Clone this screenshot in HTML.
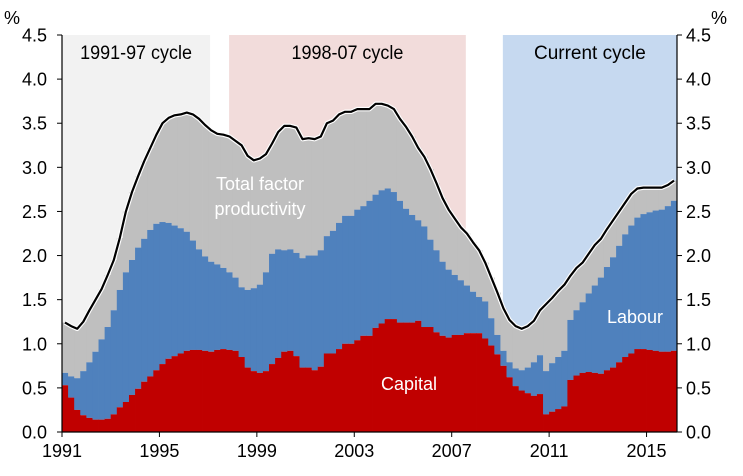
<!DOCTYPE html>
<html><head><meta charset="utf-8">
<style>
html,body{margin:0;padding:0;background:#fff;}
svg{display:block;font-family:"Liberation Sans",Arial,sans-serif;}
</style></head>
<body>
<svg id="chart" width="743" height="476" viewBox="0 0 743 476" xmlns="http://www.w3.org/2000/svg"></svg>
<script>
const capital = [.53,.39,.25,.19,.16,.14,.14,.15,.20,.28,
 .34,.42,.49,.57,.63,.70,.77,.83,.86,.89,
 .92,.93,.93,.92,.91,.93,.94,.93,.92,.85,
 .73,.69,.67,.69,.77,.84,.91,.92,.86,.73,
 .73,.70,.74,.89,.89,.94,1.0,1.0,1.04,1.09,
 1.09,1.18,1.23,1.28,1.28,1.24,1.24,1.24,1.26,1.19,
 1.19,1.13,1.09,1.07,1.10,1.10,1.12,1.12,1.12,1.06,
 .98,.88,.75,.62,.52,.47,.44,.41,.43,.20,
 .23,.26,.29,.59,.64,.67,.68,.67,.66,.70,
 .73,.79,.85,.89,.94,.94,.93,.92,.91,.91,.92];
const capitalPlusLabour = [.67,.63,.61,.69,.79,.91,1.05,1.19,1.38,1.61,
 1.81,1.95,2.09,2.19,2.29,2.36,2.38,2.37,2.34,2.31,
 2.27,2.17,2.07,1.99,1.93,1.90,1.86,1.81,1.75,1.64,
 1.61,1.63,1.67,1.81,2.02,2.07,2.06,2.07,2.03,1.97,
 2.0,2.0,2.06,2.22,2.28,2.37,2.45,2.45,2.52,2.56,
 2.62,2.69,2.74,2.76,2.72,2.62,2.53,2.46,2.40,2.33,
 2.18,2.06,1.93,1.84,1.78,1.72,1.66,1.59,1.53,1.48,
 1.29,1.10,.92,.79,.72,.70,.73,.79,.87,.69,
 .78,.85,.92,1.27,1.38,1.47,1.57,1.66,1.75,1.87,
 1.98,2.11,2.24,2.34,2.43,2.47,2.49,2.51,2.52,2.56,2.62];
const total = [1.24,1.20,1.17,1.25,1.38,1.50,1.62,1.78,1.95,2.2,
 2.5,2.72,2.9,3.07,3.22,3.37,3.50,3.56,3.59,3.60,
 3.62,3.60,3.55,3.48,3.42,3.38,3.37,3.35,3.30,3.25,
 3.13,3.08,3.10,3.15,3.27,3.40,3.47,3.47,3.45,3.32,
 3.33,3.32,3.35,3.50,3.53,3.60,3.63,3.63,3.66,3.66,
 3.66,3.72,3.72,3.70,3.66,3.55,3.46,3.35,3.22,3.12,
 2.98,2.82,2.65,2.52,2.42,2.32,2.25,2.15,2.06,1.92,
 1.75,1.58,1.40,1.27,1.20,1.17,1.20,1.26,1.38,1.45,
 1.52,1.60,1.67,1.77,1.86,1.92,2.02,2.12,2.19,2.30,
 2.40,2.50,2.60,2.70,2.76,2.77,2.77,2.77,2.77,2.80,2.85];
const yTicks = [0,0.5,1,1.5,2,2.5,3,3.5,4,4.5];
const xTickYears = [1991,1995,1999,2003,2007,2011,2015];
const cycleNames = ["1991-97 cycle","1998-07 cycle","Current cycle"];
const cycleStart = [1991.0,1997.86,2009.1];
const cycleEnd = [1997.08,2007.58,2016.25];

const NS="http://www.w3.org/2000/svg";
const svg=document.getElementById('chart');
const X0=62,X1=677,Y0=432,Y1=35,YMAX=4.5,START=1991,NQ=101;
const qw=(X1-X0)/NQ;
function xYear(yr){return X0+(yr-START)*4*qw;}
function xQ(i){return X0+i*qw;}
function yV(v){return Y0-(v/YMAX)*(Y0-Y1);}
function mk(tag,attrs,parent){const e=document.createElementNS(NS,tag);for(const k in attrs)e.setAttribute(k,attrs[k]);(parent||svg).appendChild(e);return e;}

const shadeColors=["#f2f2f2","#f2dcdb","#c6d9f0"];
for(let c=0;c<cycleNames.length;c++){
  const x=xYear(cycleStart[c]),w=Math.min(xYear(cycleEnd[c]),X1)-x;
  const r=mk('rect',{x:x,y:Y1,width:w,height:Y0-Y1,fill:shadeColors[c]});
  
  
  const t=mk('text',{x:x+w/2,y:59,'text-anchor':'middle','font-size':'19','fill':'#000','textLength':cycleNames[c].length*8.6,'lengthAdjust':'spacingAndGlyphs'});
  t.textContent=cycleNames[c];
  
  
}

const gBars=mk('g',{});


for(let i=0;i<NQ;i++){
  const x=xQ(i),w=qw+0.4;
  const g=mk('rect',{x:x,y:yV(total[i]),width:w,height:yV(capitalPlusLabour[i])-yV(total[i]),fill:'#bfbfbf'},gBars);
  
  
  const b=mk('rect',{x:x,y:yV(capitalPlusLabour[i]),width:w,height:yV(capital[i])-yV(capitalPlusLabour[i]),fill:'#4f81bd'},gBars);
  
  
  const r=mk('rect',{x:x,y:yV(capital[i]),width:w,height:Y0-yV(capital[i]),fill:'#c00000'},gBars);
  
  
}
let d='';
for(let i=0;i<NQ;i++){d+=(i?'L':'M')+(xQ(i)+qw/2).toFixed(1)+','+yV(total[i]).toFixed(1);}
const wl=mk('path',{d:d,fill:'none',stroke:'#fff','stroke-width':'4.5','stroke-linejoin':'round'});


const ln=mk('path',{d:d,fill:'none',stroke:'#000','stroke-width':'2.2','stroke-linejoin':'round'});



const axL=mk('line',{x1:X0,y1:Y1,x2:X0,y2:Y0,stroke:'#000','stroke-width':'1.2'});


const axR=mk('line',{x1:X1,y1:Y1,x2:X1,y2:Y0,stroke:'#000','stroke-width':'1.2'});


const axB=mk('line',{x1:X0,y1:Y0,x2:X1,y2:Y0,stroke:'#000','stroke-width':'1.2'});


for(const v of yTicks){
  const y=yV(v);
  mk('line',{x1:X0-5,y1:y,x2:X0,y2:y,stroke:'#000','stroke-width':'1'});
  mk('line',{x1:X1,y1:y,x2:X1+5,y2:y,stroke:'#000','stroke-width':'1'});
  const tl=mk('text',{x:X0-15,y:y+6.5,'text-anchor':'end','font-size':'18'});
  tl.textContent=v.toFixed(1);
  
  
  const tr=mk('text',{x:X1+9,y:y+6.5,'text-anchor':'start','font-size':'18'});
  tr.textContent=v.toFixed(1);
  
  
}
for(const yr of xTickYears){
  const x=xYear(yr);
  mk('line',{x1:x,y1:Y0,x2:x,y2:Y0+5,stroke:'#000','stroke-width':'1'});
  const t=mk('text',{x:x,y:Y0+25,'text-anchor':'middle','font-size':'18'});
  t.textContent=yr;
  
  
}
</script>
<svg style="position:absolute;left:0;top:0" width="743" height="476">
<text x="4" y="24" font-size="18" font-family="Liberation Sans, sans-serif">%</text>
<text x="711" y="24" font-size="18" font-family="Liberation Sans, sans-serif">%</text>
<text x="260" y="190" text-anchor="middle" font-size="18" fill="#fff" font-family="Liberation Sans, sans-serif">Total factor</text>
<text x="260" y="215" text-anchor="middle" font-size="18" fill="#fff" font-family="Liberation Sans, sans-serif">productivity</text>
<text x="635" y="323" text-anchor="middle" font-size="18" fill="#fff" font-family="Liberation Sans, sans-serif">Labour</text>
<text x="409" y="390" text-anchor="middle" font-size="18" fill="#fff" font-family="Liberation Sans, sans-serif">Capital</text>
</svg>
</body></html>
